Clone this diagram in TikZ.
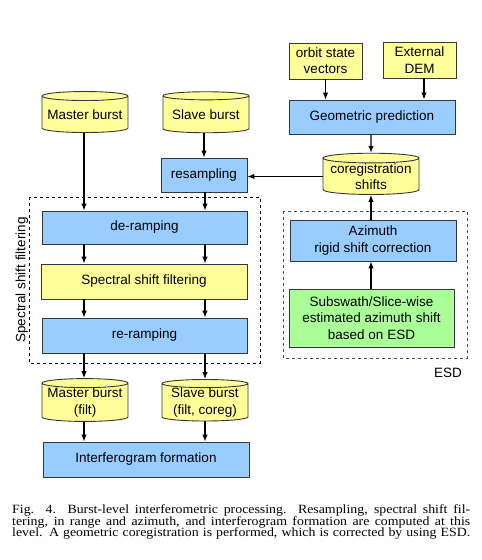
\documentclass[tikz,border=0pt]{standalone}
\usepackage{fontspec}
\setmainfont{Liberation Sans}
\newfontfamily\capfont[FakeStretch=1.1]{Liberation Serif}
\usetikzlibrary{arrows.meta,shapes.geometric,positioning}
\definecolor{boxblue}{RGB}{153,204,255}
\definecolor{boxyellow}{RGB}{255,255,153}
\definecolor{boxgreen}{RGB}{170,255,153}
\definecolor{edgegray}{RGB}{55,55,55}
\tikzset{
  blk/.style={draw=edgegray,line width=0.9pt,align=center,inner sep=0pt},
  procbox/.style={blk,fill=boxblue},
  inbox/.style={blk,fill=boxyellow},
  estbox/.style={blk,fill=boxgreen},
  drum/.style={cylinder,shape border rotate=90,aspect=0.12,draw=edgegray,line width=0.9pt,
    cylinder uses custom fill,cylinder body fill=boxyellow,cylinder end fill=boxyellow,
    align=center,inner sep=0pt},
  flow/.style={-{Latex[length=7pt,width=5.5pt]},line width=1.1pt},
  group/.style={draw,dashed,line width=0.8pt}
}
\begin{document}
\begin{tikzpicture}[x=1pt,y=-1pt,font=\fontsize{13.5}{16.3}\selectfont]
\useasboundingbox (0,0) rectangle (482,560);
% burst inputs
\node[drum,minimum width=86pt,minimum height=41pt] (mst) at (85,114.5) {Master burst};
\node[drum,minimum width=86pt,minimum height=41pt] (slv) at (206,114.5) {Slave burst};
\node[procbox,minimum width=86pt,minimum height=34pt] (resamp) at (204,175) {resampling};
% spectral shift filtering chain
\node[procbox,minimum width=205pt,minimum height=33pt] (deramp) at (144.5,227.5) {de-ramping};
\node[inbox,minimum width=206pt,minimum height=35pt] (ssf) at (144,281.5) {Spectral shift filtering};
\node[procbox,minimum width=205pt,minimum height=35pt] (reramp) at (144.5,335.5) {re-ramping};
\draw[group] (29,197) rectangle (260,363);
\node[rotate=90] (ssflbl) at (22,280) {Spectral shift filtering};
% filtered bursts and interferogram
\node[drum,minimum width=86pt,minimum height=39pt] (mstf) at (85,402.5) {Master burst\\(filt)};
\node[drum,minimum width=86pt,minimum height=39pt] (slvf) at (205,402.5) {Slave burst\\(filt, coreg)};
\node[procbox,minimum width=206pt,minimum height=35pt] (ifg) at (146,459.5) {Interferogram formation};
% geometric coregistration
\node[inbox,minimum width=73pt,minimum height=36pt] (orb) at (325.5,61) {orbit state\\vectors};
\node[inbox,minimum width=73pt,minimum height=36pt] (dem) at (419.5,60) {External\\DEM};
\node[procbox,minimum width=166pt,minimum height=34pt] (geo) at (372,117) {Geometric prediction};
\node[drum,minimum width=96pt,minimum height=41pt] (coreg) at (371,176.5) {coregistration\\shifts};
% ESD correction
\node[procbox,minimum width=166pt,minimum height=41pt] (azi) at (373,240.5) {Azimuth\\rigid shift correction};
\node[estbox,minimum width=165pt,minimum height=58pt] (esd) at (371.5,318) {Subswath/Slice-wise\\estimated azimuth shift\\based on ESD};
\draw[group,black!70] (283,211) rectangle (467,358);
\node (esdlbl) at (448,373) {ESD};
% connectors
\draw[flow] (mst.south -| 84,0) -- (deramp.north -| 84,0);
\draw[flow] (slv.south -| resamp) -- (resamp.north);
\draw[flow] (resamp.south -| 205,0) -- (deramp.north -| 205,0);
\foreach \a/\b in {deramp/ssf,ssf/reramp,reramp/mstf,mstf/ifg}{
  \draw[flow] (\a.south -| 84,0) -- (\b.north -| 84,0);}
\foreach \a/\b in {deramp/ssf,ssf/reramp,reramp/slvf,slvf/ifg}{
  \draw[flow] (\a.south -| 205,0) -- (\b.north -| 205,0);}
\draw[flow] (orb.south) -- (orb.south |- geo.north);
\draw[flow] (dem.south -| 424,0) -- (geo.north -| 424,0);
\draw[flow] (geo.south -| coreg) -- (coreg.north);
\draw[flow] (coreg.west) -- (resamp.east |- coreg.west);
\draw[flow] (azi.north -| coreg) -- (coreg.south);
\draw[flow] (esd.north -| coreg) -- (azi.south -| coreg);
% caption
\node[anchor=north west,align=left,inner sep=0pt,
  font=\capfont\fontsize{12.6}{11.6}\selectfont] (cap) at (12,504.5) {%
  \makebox[458pt][s]{Fig. 4.\ \ Burst-level interferometric processing. Resampling, spectral shift fil-}\\
  \makebox[458pt][s]{tering, in range and azimuth, and interferogram formation are computed at this}\\
  \makebox[458pt][s]{level. A geometric coregistration is performed, which is corrected by using ESD.}};
\end{tikzpicture}
\end{document}
